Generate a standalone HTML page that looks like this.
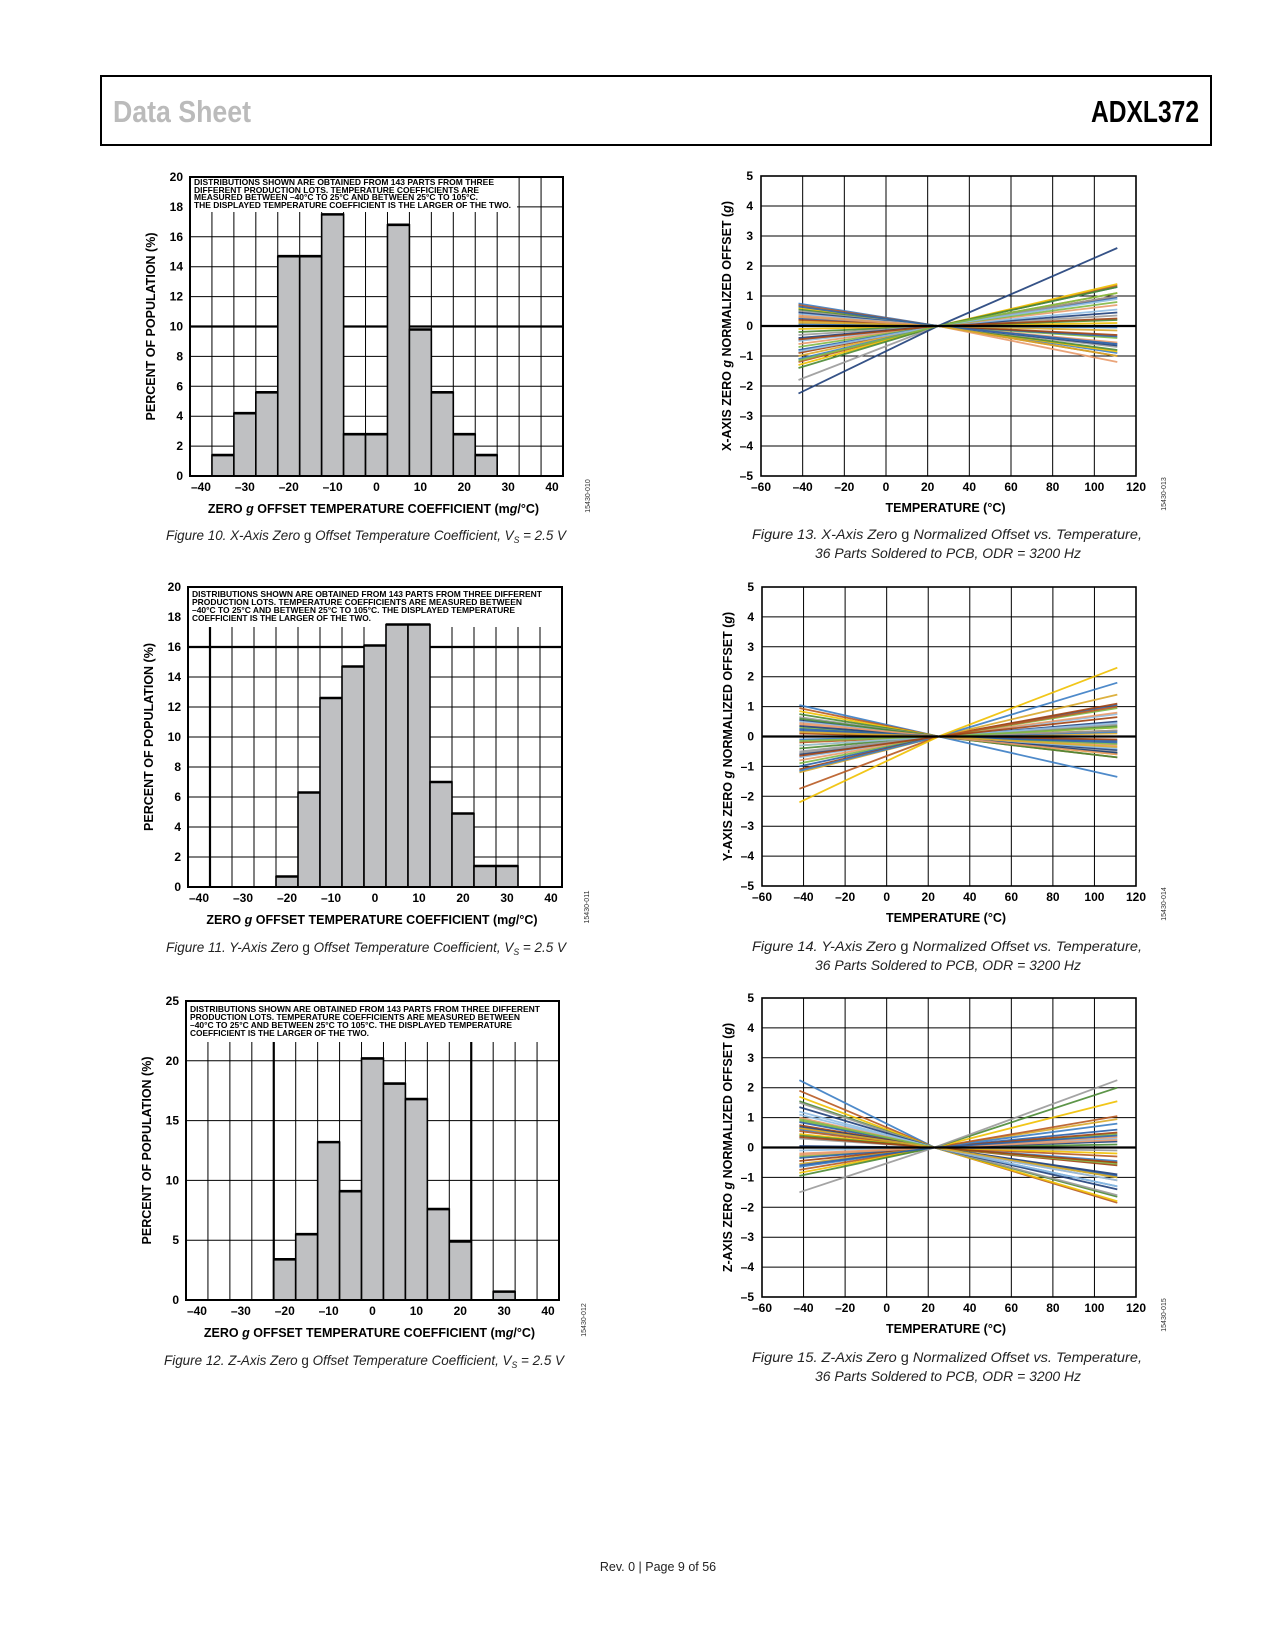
<!DOCTYPE html>
<html><head><meta charset="utf-8"><title>ADXL372 Data Sheet page 9</title>
<style>
html,body{margin:0;padding:0;background:#fff;}
body{width:1275px;height:1650px;position:relative;overflow:hidden;font-family:"Liberation Sans",sans-serif;}
svg{position:absolute;left:0;top:0;}
.tk{font:bold 12px "Liberation Sans",sans-serif;fill:#000;}
.ttl{font:bold 12.5px "Liberation Sans",sans-serif;fill:#000;}
.ann{font:bold 8.4px "Liberation Sans",sans-serif;fill:#000;}
.cap{font:italic 14px "Liberation Sans",sans-serif;fill:#222;}
.fid{font:7px "Liberation Sans",sans-serif;fill:#333;}
</style></head>
<body>
<svg id="page" width="1275" height="1650" viewBox="0 0 1275 1650" xmlns="http://www.w3.org/2000/svg">
<rect x="101" y="76" width="1110" height="69" fill="none" stroke="#000" stroke-width="2"/>
<text x="113" y="122" font-family="Liberation Sans" font-weight="bold" font-size="31" fill="#bbbbbb" textLength="138" lengthAdjust="spacingAndGlyphs">Data Sheet</text>
<text x="1091" y="122" font-family="Liberation Sans" font-weight="bold" font-size="31" fill="#000" textLength="108" lengthAdjust="spacingAndGlyphs">ADXL372</text>
<text x="658" y="1571" text-anchor="middle" font-family="Liberation Sans" font-size="12.5" fill="#222">Rev. 0 | Page 9 of 56</text>
<g id="charts"></g>
</svg>
<script>
// ---------- histogram data ----------
const histCenters = [-40,-35,-30,-25,-20,-15,-10,-5,0,5,10,15,20,25,30,35,40];
const histXTicks = [-40,-30,-20,-10,0,10,20,30,40];
const histXValues = [0,1.4,4.2,5.6,14.7,14.7,17.5,2.8,2.8,16.8,9.8,5.6,2.8,1.4,0,0,0];
const histYValues = [0,0,0,0,0.7,6.3,12.6,14.7,16.1,17.5,17.5,7.0,4.9,1.4,1.4,0,0];
const histZValues = [0,0,0,0,3.4,5.5,13.2,9.1,20.2,18.1,16.8,7.6,4.9,0,0.7,0,0];
const histYTicks20 = [0,2,4,6,8,10,12,14,16,18,20];
const histYTicks25 = [0,5,10,15,20,25];
// ---------- temperature sweep data: offset at -42 °C and at 111 °C ----------
const tempTicks = [-60,-40,-20,0,20,40,60,80,100,120];
const offsetTicks = [-5,-4,-3,-2,-1,0,1,2,3,4,5];
const xAxisLeft = [0.75,0.7,0.6,0.55,0.5,0.45,0.4,0.35,0.3,0.25,0.2,0.1,0.05,0,-0.1,-0.2,-0.3,-0.4,-0.5,-0.6,-0.7,-0.8,-0.9,-1.0,-1.1,-1.2,-1.3,-1.4,-1.8,-2.25,-0.85,0.3,-1.15,0.65,-0.45,0.15];
const xAxisRight = [-0.9,-1.0,-0.85,-0.8,-0.7,-0.65,-0.6,-0.55,-0.4,-0.35,-0.3,-0.15,-0.05,0,0.1,0.2,0.35,0.45,0.55,0.7,0.8,0.95,1.0,1.1,1.3,1.35,1.4,1.3,1.0,2.6,0.9,-1.2,1.1,-0.6,0.25,-1.0];
const yAxisLeft = [1.05,0.95,0.85,0.75,0.65,0.55,0.5,0.4,0.3,0.2,0.1,0,-0.1,-0.2,-0.3,-0.4,-0.5,-0.6,-0.7,-0.8,-0.9,-1.0,-1.1,-1.2,-1.15,-1.75,-2.2,0.6,-0.55,0.35,-0.3,0.45,-0.15,0.25,-0.65,0.15];
const yAxisRight = [-1.35,-0.7,-0.6,-0.55,-0.5,-0.45,-0.4,-0.3,-0.25,-0.15,-0.1,0.1,0.15,0.2,0.3,0.35,0.4,0.5,0.75,0.8,0.95,1.05,1.1,1.4,1.8,1.0,2.3,-0.7,0.2,-0.55,0.45,-0.6,0.3,-0.2,0.65,-0.35];
const zAxisLeft = [2.25,1.9,1.7,1.55,1.5,1.35,1.1,1.0,0.9,0.85,0.75,0.65,0.6,0.55,0.45,0.4,0.3,0.05,-0.1,-0.2,-0.3,-0.35,-0.45,-0.55,-0.65,-0.75,-0.85,-0.95,-1.5,0.7,1.2,-0.25,0.95,-0.6,0.35,0.65];
const zAxisRight = [-1.3,-1.85,-1.8,-1.65,-1.6,-1.4,-1.3,-1.1,-1.0,-0.95,-0.6,-0.5,-0.45,-0.3,-0.2,0.1,-0.1,0.2,0.3,0.35,0.45,0.6,0.5,0.95,0.8,1.05,1.55,2.0,2.25,-0.9,-1.1,0.25,-0.55,0.4,-0.5,-1.0];
const palette = ['#3b7dc4','#b85a22','#f0c000','#4a8a34','#9a9a9a','#1f3f7a','#8fbde3','#e89a6a','#7fb846','#2a60a8','#a04010','#d9a82a'];

const NS='http://www.w3.org/2000/svg';
const root=document.getElementById('charts');
function mk(tag,attrs,parent){const e=document.createElementNS(NS,tag);for(const k in attrs)e.setAttribute(k,attrs[k]);(parent||root).appendChild(e);return e;}
function txt(s,attrs,parent){const e=mk('text',attrs,parent);e.textContent=s;return e;}
function fmt(v){return v<0?'\u2013'+Math.abs(v):String(v);}

function histogram(o){
  const g=mk('g',{});
  
  
  const xmin=-42.5,xmax=42.5;
  const sx=v=>o.l+(v-xmin)/(xmax-xmin)*(o.r-o.l);
  const sy=v=>o.b-v/o.ymax*(o.b-o.t);
  o.yticks.forEach(v=>{const ln=mk('line',{x1:o.l,x2:o.r,y1:sy(v),y2:sy(v),stroke:'#000','stroke-width':o.thickY.includes(v)?2.2:1},g);
    
    const t=txt(String(v),{x:o.l-7,y:sy(v)+4,'text-anchor':'end',class:'tk'},g);
    });
  for(let i=0;i<=histCenters.length;i++){const xv=xmin+i*5;
    const ln=mk('line',{x1:sx(xv),x2:sx(xv),y1:o.t,y2:o.b,stroke:'#000','stroke-width':o.thickX.includes(xv)?2.2:1},g);
    }
  const box=mk('rect',{x:o.l+1,y:o.t+1,width:o.boxW,height:o.boxB-o.t-1,fill:'#fff'},g);
  
  o.ann.forEach((s,i)=>{const t=txt(s,{x:o.l+4,y:o.annY[i],class:'ann',textLength:o.annW[i],lengthAdjust:'spacingAndGlyphs'},g);
    });
  histCenters.forEach((c,i)=>{const v=o.vals[i]; if(!v) return;
    const bar=mk('rect',{x:sx(c-2.5),y:sy(v),width:sx(c+2.5)-sx(c-2.5),height:o.b-sy(v),fill:'#bfc0c2',stroke:'#000','stroke-width':1.6},g);
    
    const top=mk('line',{x1:sx(c-2.5),x2:sx(c+2.5),y1:sy(v),y2:sy(v),stroke:'#000','stroke-width':2.6},g);
    });
  const fr=mk('rect',{x:o.l,y:o.t,width:o.r-o.l,height:o.b-o.t,fill:'none',stroke:'#000','stroke-width':2},g);
  
  histXTicks.forEach(v=>{const t=txt(fmt(v),{x:sx(v),y:o.b+15,'text-anchor':'middle',class:'tk'},g);
    });
  const xt=mk('text',{x:(o.l+o.r)/2-3,y:o.b+37,'text-anchor':'middle',class:'ttl'},g);
  xt.innerHTML='ZERO <tspan font-style="italic">g</tspan> OFFSET TEMPERATURE COEFFICIENT (m<tspan font-style="italic">g</tspan>/°C)';
  
  const yt=txt('PERCENT OF POPULATION (%)',{x:0,y:0,'text-anchor':'middle',class:'ttl',transform:`translate(${o.l-35},${(o.t+o.b)/2}) rotate(-90)`},g);
  
  const id=txt(o.fid,{x:0,y:0,'text-anchor':'middle',class:'fid',transform:`translate(${o.r+27},${o.b+20}) rotate(-90)`},g);
  
  const cp=mk('text',{x:o.capX,y:o.capY,'text-anchor':'middle',class:'cap',textLength:400,lengthAdjust:'spacingAndGlyphs'},g);
  cp.innerHTML=o.cap;
  
}

function sweep(o){
  const g=mk('g',{});
  
  
  const sx=v=>o.l+(v+60)/180*(o.r-o.l);
  const sy=v=>o.b-(v+5)/10*(o.b-o.t);
  offsetTicks.forEach(v=>{const ln=mk('line',{x1:o.l,x2:o.r,y1:sy(v),y2:sy(v),stroke:'#000','stroke-width':1},g);
    
    const t=txt(fmt(v),{x:o.l-8,y:sy(v)+4,'text-anchor':'end',class:'tk'},g);
    });
  tempTicks.forEach(v=>{const ln=mk('line',{x1:sx(v),x2:sx(v),y1:o.t,y2:o.b,stroke:'#000','stroke-width':1},g);
    
    const t=txt(fmt(v),{x:sx(v),y:o.b+15,'text-anchor':'middle',class:'tk'},g);
    });
  o.left.forEach((a,i)=>{const b=o.right[i];
    const pts=[[-42,a],[o.pivot,0],[111,b]].map(p=>sx(p[0]).toFixed(1)+','+sy(p[1]).toFixed(1)).join(' ');
    const pl=mk('polyline',{points:pts,fill:'none',stroke:palette[i%palette.length],'stroke-width':1.8,'stroke-opacity':0.9},g);
    });
  const z=mk('line',{x1:o.l,x2:o.r,y1:sy(0),y2:sy(0),stroke:'#000','stroke-width':2.2},g);
  
  const fr=mk('rect',{x:o.l,y:o.t,width:o.r-o.l,height:o.b-o.t,fill:'none',stroke:'#000','stroke-width':1.6},g);
  
  const xt=txt('TEMPERATURE (°C)',{x:(o.l+o.r)/2-3,y:o.b+36,'text-anchor':'middle',class:'ttl'},g);
  
  const yt=mk('text',{x:0,y:0,'text-anchor':'middle',class:'ttl',transform:`translate(${o.l-30},${(o.t+o.b)/2}) rotate(-90)`},g);
  yt.innerHTML=o.axis+'-AXIS ZERO <tspan font-style="italic">g</tspan> NORMALIZED OFFSET (<tspan font-style="italic">g</tspan>)';
  
  const id=txt(o.fid,{x:0,y:0,'text-anchor':'middle',class:'fid',transform:`translate(${o.r+30},${o.b+18}) rotate(-90)`},g);
  
  const c1=mk('text',{x:947,y:o.capY,'text-anchor':'middle',class:'cap',textLength:390,lengthAdjust:'spacingAndGlyphs'},g);
  c1.innerHTML=o.cap;
  
  const c2=txt('36 Parts Soldered to PCB, ODR = 3200 Hz',{x:948,y:o.capY+19,'text-anchor':'middle',class:'cap',textLength:266,lengthAdjust:'spacingAndGlyphs'},g);
  
}

const ann1=['DISTRIBUTIONS SHOWN ARE OBTAINED FROM 143 PARTS  FROM THREE','DIFFERENT PRODUCTION LOTS. TEMPERATURE COEFFICIENTS ARE','MEASURED BETWEEN \u201340°C TO 25°C AND BETWEEN 25°C TO 105°C.','THE DISPLAYED TEMPERATURE COEFFICIENT IS THE LARGER OF THE TWO.'];
const ann2=['DISTRIBUTIONS SHOWN ARE OBTAINED FROM 143 PARTS  FROM THREE DIFFERENT','PRODUCTION LOTS. TEMPERATURE COEFFICIENTS ARE MEASURED BETWEEN','\u201340°C TO 25°C AND BETWEEN 25°C TO 105°C. THE DISPLAYED TEMPERATURE','COEFFICIENT IS THE LARGER OF THE TWO.'];
const capH=a=>`Figure ${a[0]}. ${a[1]}-Axis Zero <tspan font-style="normal">g</tspan> Offset Temperature Coefficient, V<tspan font-size="9" dy="3">S</tspan><tspan dy="-3"> = 2.5 V</tspan>`;

histogram({name:'x-axis-histogram',l:190,r:563,t:177,b:476,ymax:20,yticks:histYTicks20,thickY:[10],thickX:[],vals:histXValues,
  boxW:326,boxB:212,ann:ann1,annY:[185,193,200,208],annW:[300,285,284,317],fid:'15430-010',capX:366,capY:540,cap:capH([10,'X'])});
histogram({name:'y-axis-histogram',l:188,r:562,t:587,b:887,ymax:20,yticks:histYTicks20,thickY:[16],thickX:[-37.5],vals:histYValues,
  boxW:372,boxB:627,ann:ann2,annY:[597,605,613,621],annW:[350,330,323,179],fid:'15430-011',capX:366,capY:952,cap:capH([11,'Y'])});
histogram({name:'z-axis-histogram',l:186,r:559,t:1001,b:1300,ymax:25,yticks:histYTicks25,thickY:[],thickX:[-22.5,22.5],vals:histZValues,
  boxW:371,boxB:1042,ann:ann2,annY:[1012,1020,1028,1036],annW:[350,330,322,179],fid:'15430-012',capX:364,capY:1365,cap:capH([12,'Z'])});

const capS=a=>`Figure ${a[0]}. ${a[1]}-Axis Zero <tspan font-style="normal">g</tspan> Normalized Offset vs. Temperature,`;
sweep({name:'x-axis-offset-vs-temperature',l:761,r:1136,t:176,b:476,left:xAxisLeft,right:xAxisRight,pivot:25,axis:'X',fid:'15430-013',capY:539,cap:capS([13,'X'])});
sweep({name:'y-axis-offset-vs-temperature',l:762,r:1136,t:587,b:886,left:yAxisLeft,right:yAxisRight,pivot:25,axis:'Y',fid:'15430-014',capY:951,cap:capS([14,'Y'])});
sweep({name:'z-axis-offset-vs-temperature',l:762,r:1136,t:998,b:1297,left:zAxisLeft,right:zAxisRight,pivot:23,axis:'Z',fid:'15430-015',capY:1362,cap:capS([15,'Z'])});
</script>
</body></html>
